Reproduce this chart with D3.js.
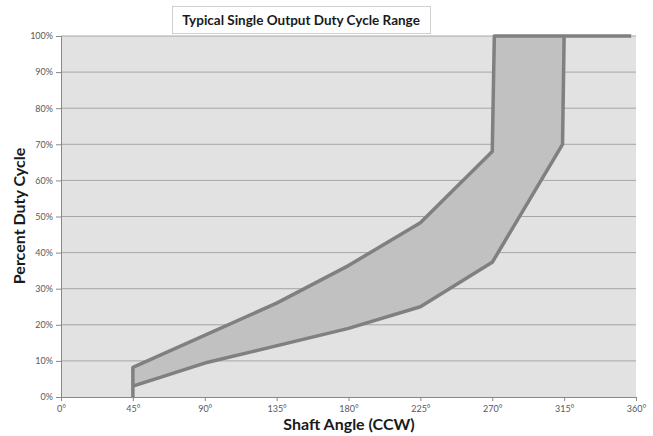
<!DOCTYPE html>
<html>
<head>
<meta charset="utf-8">
<script src="https://cdn.jsdelivr.net/npm/d3@7"></script>
<style>
  body { margin: 0; background: #fff; }
  text { font-family: Lato, "Open Sans", sans-serif; }
</style>
</head>
<body>
<div id="chart"></div>
<script>
var w = 653,
  h = 436;
var margin = {top: 36, right: 17, bottom: 39, left: 61};

// upper edge of the range, left to right
var upperAngle = [45, 45, 135, 180, 225, 270, 271.3, 357];
var upperDuty  = [0, 8.2, 26, 36.4, 48.3, 68, 100, 100];
// lower edge of the range, left to right
var lowerAngle = [45, 90, 180, 225, 270, 314, 315];
var lowerDuty  = [3, 9.4, 19, 25, 37.3, 70, 100];

var xTicks = [0, 45, 90, 135, 180, 225, 270, 315, 360];
var yTicks = [0, 10, 20, 30, 40, 50, 60, 70, 80, 90, 100];

var width = w - margin.left - margin.right,
  height = h - margin.top - margin.bottom;

var svg = d3.select("#chart").append("svg").attr("width", w).attr("height", h);

var x = d3.scaleLinear().domain([0, 360]).range([0, width]);
var y = d3.scaleLinear().domain([0, 100]).range([height, 0]);

var main = svg.append("g").attr("transform", "translate(" + margin.left + "," + margin.top + ")");

main.append("rect").attr("width", width).attr("height", height).attr("fill", "#e2e2e3");

// grid lines
main.append("g").selectAll("line")
  .data(yTicks.slice(1))
  .enter().append("line")
  .attr("x1", 0).attr("x2", width)
  .attr("y1", function (d) { return y(d); })
  .attr("y2", function (d) { return y(d); })
  .attr("stroke", "#a6a6a6").attr("stroke-width", 1);

// band between the two edges
var upper = upperAngle.map(function (a, i) { return [a, upperDuty[i]]; });
var lower = lowerAngle.map(function (a, i) { return [a, lowerDuty[i]]; });
var band = upper.slice(1, 7).concat(lower.slice().reverse());

var line = d3.line().x(function (d) { return x(d[0]); }).y(function (d) { return y(d[1]); });

main.append("path")
  .datum(band)
  .attr("fill", "#c1c1c2")
  .attr("d", line);

[upper, lower].forEach(function (s) {
  main.append("path").datum(s)
    .attr("fill", "none").attr("stroke", "#808080").attr("stroke-width", 3.5)
    .attr("stroke-linejoin", "round")
    .attr("d", line);
});

// axes
var xAxis = main.append("g")
  .attr("transform", "translate(0," + height + ")")
  .call(d3.axisBottom(x).tickValues(xTicks).tickSize(4).tickFormat(function (d) { return d + "°"; }));
var yAxis = main.append("g")
  .call(d3.axisLeft(y).tickValues(yTicks).tickSize(5).tickFormat(function (d) { return d + "%"; }));

[xAxis, yAxis].forEach(function (a) {
  a.select(".domain").attr("stroke", "#888");
  a.selectAll(".tick line").attr("stroke", "#888");
  a.selectAll(".tick text").attr("fill", "#595959").style("font-size", "9px")
    .style("font-family", "Lato, sans-serif");
});
xAxis.selectAll(".tick text").attr("dy", "0.9em");

// title box
svg.append("rect").attr("x", 172.5).attr("y", 6.5).attr("width", 258).attr("height", 27)
  .attr("fill", "#fff").attr("stroke", "#d0d0d0");
svg.append("text").attr("x", 301).attr("y", 25).attr("text-anchor", "middle")
  .style("font-size", "13.5px").style("font-weight", "bold").attr("fill", "#1a1a1a")
  .text("Typical Single Output Duty Cycle Range");

svg.append("text").attr("x", 349).attr("y", 430).attr("text-anchor", "middle")
  .style("font-size", "16px").style("font-weight", "bold").attr("fill", "#1a1a1a")
  .text("Shaft Angle (CCW)");

svg.append("text").attr("transform", "translate(25,216) rotate(-90)").attr("text-anchor", "middle")
  .style("font-size", "16px").style("font-weight", "bold").attr("fill", "#1a1a1a")
  .text("Percent Duty Cycle");
</script>
</body>
</html>
